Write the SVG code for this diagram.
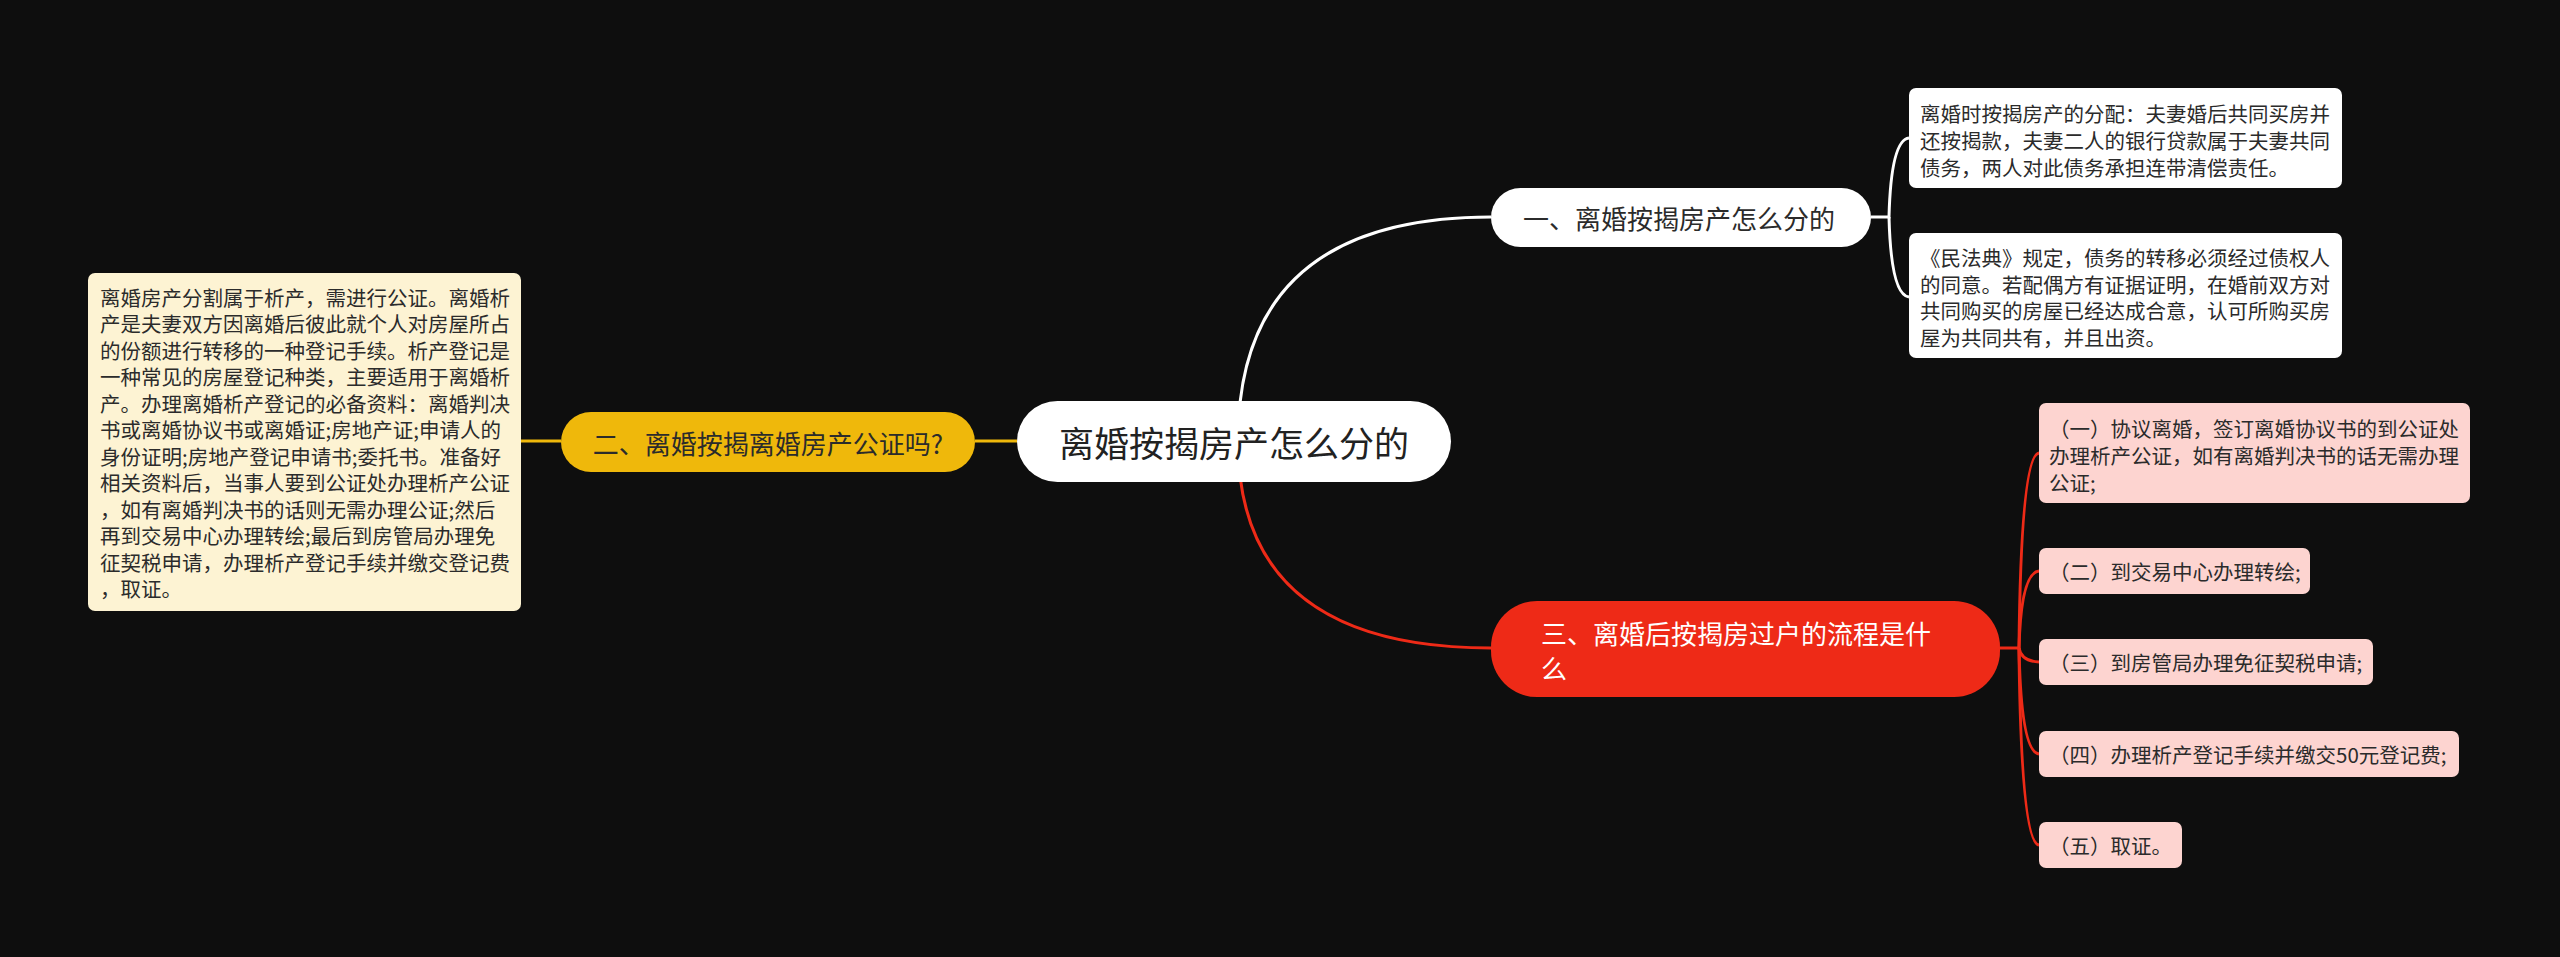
<svg xmlns="http://www.w3.org/2000/svg" width="2560" height="957" viewBox="0 0 2560 957">
<style>
text{font-family:"Noto Sans CJK SC","Noto Sans",sans-serif;dominant-baseline:central}
.c{fill:none;stroke-width:3}
.w{stroke:#ffffff}
.y{stroke:#efb80b}
.r{stroke:#ee2a17}
.leaf{font-size:20.5px;fill:#2b2b2b}
.mid{font-size:26px}
</style>
<rect x="0" y="0" width="2560" height="957" fill="#0e0e0e"/>
<g id="connectors">
<path class="c w" d="M1238,441 Q1238,217 1491,217"/>
<path class="c r" d="M1238,441 Q1238,648 1491,648"/>
<path class="c y" d="M1017,441 L975,441"/>
<path class="c y" d="M561,441 L521,441"/>
<path class="c w" stroke-width="2.5" d="M1871,217 L1889,217 Q1891,140 1909,138"/>
<path class="c w" stroke-width="2.5" d="M1889,217 Q1891,295 1909,297"/>
<path class="c r" stroke-width="2.5" d="M2000,648 L2019,648 Q2021,455 2039,453"/>
<path class="c r" stroke-width="2.5" d="M2019,648 Q2021,573 2039,571"/>
<path class="c r" stroke-width="2.5" d="M2019,648 Q2021,661 2039,662"/>
<path class="c r" stroke-width="2.5" d="M2019,648 Q2021,752 2039,754"/>
<path class="c r" stroke-width="2.5" d="M2019,648 Q2021,843 2039,845"/>
</g>
<g id="root">
<rect x="1017" y="401" width="434" height="81" rx="40.5" fill="#ffffff"/>
<text x="1234" y="441" font-size="35" fill="#222" text-anchor="middle">离婚按揭房产怎么分的</text>
</g>
<g id="n1">
<rect x="1491" y="188" width="380" height="59" rx="29.5" fill="#ffffff"/>
<text class="mid" x="1679" y="217" fill="#2b2b2b" text-anchor="middle">一、离婚按揭房产怎么分的</text>
</g>
<g id="n2">
<rect x="561" y="412" width="414" height="60" rx="30" fill="#efb80b"/>
<text class="mid" x="768" y="442" fill="#2b2b2b" text-anchor="middle">二、离婚按揭离婚房产公证吗?</text>
</g>
<g id="n3">
<rect x="1491" y="601" width="509" height="96" rx="46" fill="#ee2a17"/>
<text class="mid" x="1541" y="632" fill="#ffffff">三、离婚后按揭房过户的流程是什</text>
<text class="mid" x="1541" y="667" fill="#ffffff">么</text>
</g>
<g id="leaf-left">
<rect x="88" y="273" width="433" height="338" rx="7" fill="#fdf3d3"/>
<text class="leaf" x="100" y="296.7">离婚房产分割属于析产，需进行公证。离婚析</text>
<text class="leaf" x="100" y="323.2">产是夫妻双方因离婚后彼此就个人对房屋所占</text>
<text class="leaf" x="100" y="349.7">的份额进行转移的一种登记手续。析产登记是</text>
<text class="leaf" x="100" y="376.2">一种常见的房屋登记种类，主要适用于离婚析</text>
<text class="leaf" x="100" y="402.7">产。办理离婚析产登记的必备资料：离婚判决</text>
<text class="leaf" x="100" y="429.2">书或离婚协议书或离婚证;房地产证;申请人的</text>
<text class="leaf" x="100" y="455.7">身份证明;房地产登记申请书;委托书。准备好</text>
<text class="leaf" x="100" y="482.2">相关资料后，当事人要到公证处办理析产公证</text>
<text class="leaf" x="100" y="508.7">，如有离婚判决书的话则无需办理公证;然后</text>
<text class="leaf" x="100" y="535.2">再到交易中心办理转绘;最后到房管局办理免</text>
<text class="leaf" x="100" y="561.7">征契税申请，办理析产登记手续并缴交登记费</text>
<text class="leaf" x="100" y="588.2">，取证。</text>
</g>
<g id="leaf-r1">
<rect x="1909" y="88" width="433" height="100" rx="7" fill="#ffffff"/>
<text class="leaf" x="1920" y="113">离婚时按揭房产的分配：夫妻婚后共同买房并</text>
<text class="leaf" x="1920" y="140">还按揭款，夫妻二人的银行贷款属于夫妻共同</text>
<text class="leaf" x="1920" y="167">债务，两人对此债务承担连带清偿责任。</text>
</g>
<g id="leaf-r2">
<rect x="1909" y="233" width="433" height="125" rx="7" fill="#ffffff"/>
<text class="leaf" x="1920" y="257">《民法典》规定，债务的转移必须经过债权人</text>
<text class="leaf" x="1920" y="284">的同意。若配偶方有证据证明，在婚前双方对</text>
<text class="leaf" x="1920" y="310">共同购买的房屋已经达成合意，认可所购买房</text>
<text class="leaf" x="1920" y="337">屋为共同共有，并且出资。</text>
</g>
<g id="step1">
<rect x="2039" y="403" width="431" height="100" rx="7" fill="#fdd4d0"/>
<text class="leaf" x="2049" y="428">（一）协议离婚，签订离婚协议书的到公证处</text>
<text class="leaf" x="2049" y="455">办理析产公证，如有离婚判决书的话无需办理</text>
<text class="leaf" x="2049" y="482">公证;</text>
</g>
<g id="step2">
<rect x="2039" y="548" width="271" height="46" rx="7" fill="#fdd4d0"/>
<text class="leaf" x="2049" y="571">（二）到交易中心办理转绘;</text>
</g>
<g id="step3">
<rect x="2039" y="639" width="334" height="46" rx="7" fill="#fdd4d0"/>
<text class="leaf" x="2049" y="662">（三）到房管局办理免征契税申请;</text>
</g>
<g id="step4">
<rect x="2039" y="731" width="420" height="46" rx="7" fill="#fdd4d0"/>
<text class="leaf" x="2049" y="754">（四）办理析产登记手续并缴交50元登记费;</text>
</g>
<g id="step5">
<rect x="2039" y="822" width="143" height="46" rx="7" fill="#fdd4d0"/>
<text class="leaf" x="2049" y="845">（五）取证。</text>
</g>
</svg>
